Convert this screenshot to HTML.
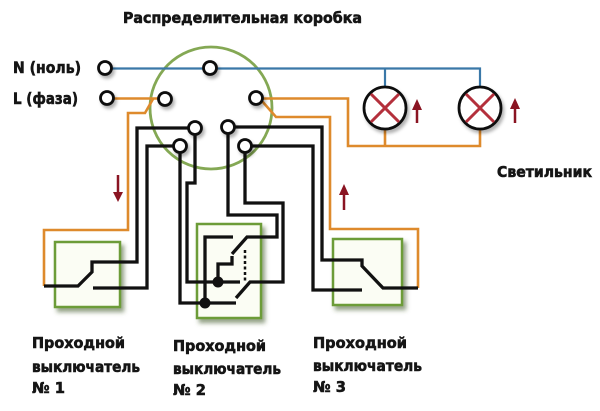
<!DOCTYPE html>
<html><head><meta charset="utf-8"><style>
html,body{margin:0;padding:0;background:#fff;}
svg{display:block;}
text{font-family:"DejaVu Sans","Liberation Sans",sans-serif;font-weight:bold;fill:#151515;stroke:#151515;stroke-width:0.6px;}
</style></head><body>
<svg width="600" height="411" viewBox="0 0 600 411" xmlns="http://www.w3.org/2000/svg">
<defs>
<filter id="sh" x="-20%" y="-20%" width="150%" height="150%">
<feDropShadow dx="3" dy="4" stdDeviation="2" flood-color="#3f5a25" flood-opacity="0.55"/>
</filter>
<filter id="sh2" x="-20%" y="-20%" width="150%" height="150%">
<feDropShadow dx="2" dy="3" stdDeviation="1.5" flood-color="#000" flood-opacity="0.3"/>
</filter>
</defs>
<rect width="600" height="411" fill="#fff"/>

<!-- junction box circle -->
<circle cx="211" cy="108" r="61" fill="none" stroke="#84a854" stroke-width="2.8"/>

<!-- switch boxes -->
<g fill="#fbfdf4" stroke="#6c9c37" stroke-width="2.5" filter="url(#sh)">
<rect x="55" y="242" width="65" height="65"/>
<rect x="197" y="224" width="64" height="94"/>
<rect x="333" y="239" width="69" height="66"/>
</g>

<!-- blue N -->
<g stroke="#3a78a8" stroke-width="2.2" fill="none">
<path d="M105,68.5 H480 V86"/>
<path d="M385,68.5 V86"/>
</g>

<!-- orange L -->
<g stroke="#de8a2c" stroke-width="2.6" fill="none" stroke-linejoin="miter">
<path d="M107,98.5 H165"/>
<path d="M153,99 L145,113 H128 V230 H44 V286"/>
<path d="M256,98.5 H348 V146 H480 V130"/>
<path d="M385,130 V146"/>
<path d="M262,101 L276,117 H330 V229 H418 V288"/>
</g>

<!-- black wires -->
<g stroke="#111" stroke-width="3.3" fill="none" stroke-linejoin="miter">
<!-- switch 1 -->
<path d="M44,286 H78 L92,272 V262 H137 V128 H195"/>
<path d="M180,146 H147 V288 H93"/>
<!-- switch 2 -->
<path d="M180,146 V303 H236"/>
<path d="M195,128 V183 H187 V282 H240"/>
<path d="M205,303 V237 H233"/>
<path d="M218,282 V264 H232 V256"/>
<path d="M228,127 V215 H277 V237 H247 L232,254"/>
<path d="M245,146 V203 H283 V282 H250 L236,298"/>
<!-- switch 3 -->
<path d="M228,127 H322 V260 H362 V266 L383,288 H418"/>
<path d="M245,146 H313 V290 H362"/>
</g>
<path d="M245,250 V282" stroke="#111" stroke-width="2.5" stroke-dasharray="3,2.5" fill="none"/>
<circle cx="205" cy="303" r="5.5" fill="#111"/>
<circle cx="218" cy="282" r="5.5" fill="#111"/>

<!-- terminals -->
<g fill="#fff" stroke="#111" stroke-width="2.8" filter="url(#sh2)">
<circle cx="105" cy="68" r="6.5"/>
<circle cx="107" cy="98" r="6.5"/>
<circle cx="210" cy="68" r="6.5"/>
<circle cx="165" cy="99" r="6.5"/>
<circle cx="256" cy="98" r="6.5"/>
<circle cx="195" cy="128" r="6.5"/>
<circle cx="180" cy="146" r="6.5"/>
<circle cx="228" cy="127" r="6.5"/>
<circle cx="245" cy="146" r="6.5"/>
</g>

<!-- lamps -->
<g filter="url(#sh2)">
<circle cx="385" cy="108" r="21" fill="#fff" stroke="#111" stroke-width="2.8"/>
<circle cx="480" cy="108" r="21" fill="#fff" stroke="#111" stroke-width="2.8"/>
</g>
<g stroke="#b4303c" stroke-width="3">
<path d="M371,94 L399,122 M399,94 L371,122"/>
<path d="M466,94 L494,122 M494,94 L466,122"/>
</g>

<!-- red arrows -->
<g stroke="#8a1422" stroke-width="2.5" fill="#8a1422">
<path d="M118,175 V194"/><path d="M113,192 L123,192 L118,202 Z" stroke="none"/>
<path d="M344,210 V193"/><path d="M339,195 L349,195 L344,184 Z" stroke="none"/>
<path d="M417,123 V108"/><path d="M412,110 L422,110 L417,99 Z" stroke="none"/>
<path d="M515,123 V107"/><path d="M510,109 L520,109 L515,98 Z" stroke="none"/>
</g>

<!-- text -->
<text x="123" y="23" font-size="15" textLength="239" lengthAdjust="spacingAndGlyphs">Распределительная коробка</text>
<text x="13" y="73" font-size="16" textLength="68" lengthAdjust="spacingAndGlyphs">N (ноль)</text>
<text x="13" y="104" font-size="16" textLength="65" lengthAdjust="spacingAndGlyphs">L (фаза)</text>
<text x="497" y="177" font-size="15" textLength="95" lengthAdjust="spacingAndGlyphs">Светильник</text>

<text x="32" y="348" font-size="15" textLength="93" lengthAdjust="spacingAndGlyphs">Проходной</text>
<text x="32" y="372" font-size="15" textLength="108" lengthAdjust="spacingAndGlyphs">выключатель</text>
<text x="32" y="393" font-size="15" textLength="33" lengthAdjust="spacingAndGlyphs">№ 1</text>

<text x="173" y="351" font-size="15" textLength="93" lengthAdjust="spacingAndGlyphs">Проходной</text>
<text x="173" y="374" font-size="15" textLength="108" lengthAdjust="spacingAndGlyphs">выключатель</text>
<text x="173" y="395" font-size="15" textLength="33" lengthAdjust="spacingAndGlyphs">№ 2</text>

<text x="313" y="348" font-size="15" textLength="94" lengthAdjust="spacingAndGlyphs">Проходной</text>
<text x="313" y="371" font-size="15" textLength="109" lengthAdjust="spacingAndGlyphs">выключатель</text>
<text x="313" y="392" font-size="15" textLength="33" lengthAdjust="spacingAndGlyphs">№ 3</text>
</svg>
</body></html>
